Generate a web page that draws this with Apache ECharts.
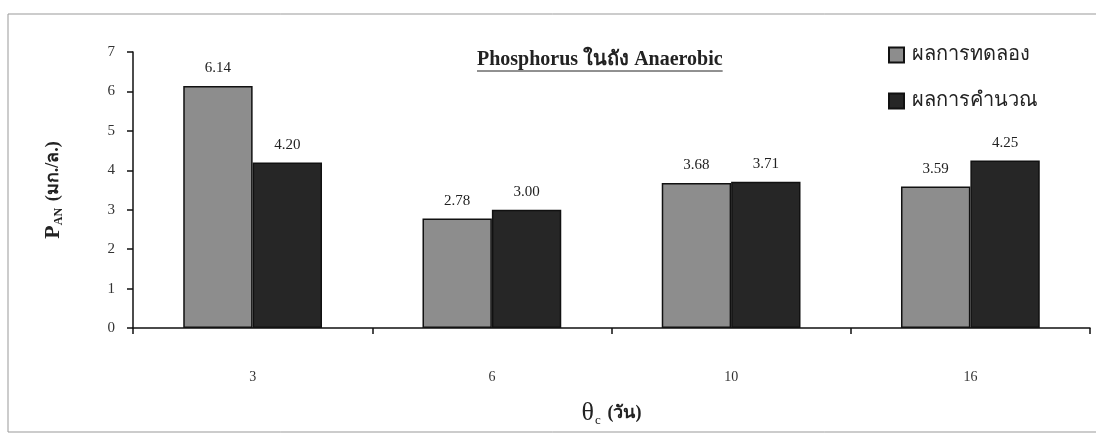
<!DOCTYPE html>
<html>
<head>
<meta charset="utf-8">
<script src="https://cdn.jsdelivr.net/npm/echarts@6/dist/echarts.min.js"></script>
<style>
  html, body { margin: 0; padding: 0; background: #ffffff; }
  #chart { width: 1096px; height: 445px; }
</style>
</head>
<body>
<div id="chart"></div>
<script>
// Sludge age (days) and anaerobic-tank phosphorus, mg/L
const categories = ['3', '6', '10', '16'];
const measured = [6.14, 2.78, 3.68, 3.59];
const calculated = [4.20, 3.00, 3.71, 4.25];
const yTicks = [0, 1, 2, 3, 4, 5, 6, 7];
const seriesNames = ['ผลการทดลอง', 'ผลการคำนวณ'];
const titleText = 'Phosphorus ในถัง Anaerobic';

const serif = '"Liberation Serif", "Times New Roman", serif';
const thaiSans = 'Tahoma, "DejaVu Sans", "Noto Sans", sans-serif';

const titleFont = 'bold 20px ' + serif;
const titleLeft = 477;
const titleTop = 52;

// measure the title so the underline spans exactly the drawn text
const measureCtx = document.createElement('canvas').getContext('2d');
measureCtx.font = titleFont;
const titleWidth = measureCtx.measureText(titleText).width;

const chart = echarts.init(document.getElementById('chart'));

const labelStyle = {
  show: true,
  position: 'top',
  distance: 10,
  fontFamily: serif,
  fontSize: 15,
  color: '#222',
  formatter: p => p.value.toFixed(2)
};

chart.setOption({
  animation: false,
  backgroundColor: '#ffffff',
  title: {
    text: titleText,
    left: titleLeft,
    top: titleTop - 2,
    padding: 0,
    textStyle: { fontFamily: serif, fontWeight: 'bold', fontSize: 20, color: '#222' }
  },
  legend: {
    orient: 'vertical',
    left: 883,
    top: 40,
    itemWidth: 15,
    itemHeight: 15,
    itemGap: 26,
    icon: 'rect',
    textStyle: { fontFamily: thaiSans, fontSize: 20, color: '#222', padding: [0, 0, 0, 3] },
    data: seriesNames
  },
  grid: { left: 133, right: 6, top: 52, bottom: 117 },
  xAxis: {
    type: 'category',
    data: categories,
    name: '{t|θ}{s|c}  {u|(วัน)}',
    nameLocation: 'middle',
    nameGap: 72,
    nameTextStyle: {
      rich: {
        t: { fontFamily: serif, fontSize: 26, color: '#222' },
        s: { fontFamily: serif, fontSize: 13, color: '#222', padding: [14, 0, 0, 1] },
        u: { fontFamily: serif, fontSize: 18, fontWeight: 'bold', color: '#222' }
      }
    },
    axisLine: { lineStyle: { color: '#111', width: 1.5 } },
    axisTick: { show: true, inside: false, length: 6, alignWithLabel: false, lineStyle: { color: '#111', width: 1.5 } },
    axisLabel: { margin: 42, fontFamily: serif, fontSize: 14, color: '#333' }
  },
  yAxis: {
    type: 'value',
    min: yTicks[0],
    max: yTicks[yTicks.length - 1],
    interval: 1,
    name: '{p|P}{s|AN}  {u|(มก./ล.)}',
    nameLocation: 'middle',
    nameGap: 68,
    nameTextStyle: {
      rich: {
        p: { fontFamily: serif, fontSize: 22, fontWeight: 'bold', color: '#222' },
        s: { fontFamily: serif, fontSize: 12, fontWeight: 'bold', color: '#222', padding: [12, 0, 0, 0] },
        u: { fontFamily: serif, fontSize: 18, fontWeight: 'bold', color: '#222' }
      }
    },
    splitLine: { show: false },
    axisLine: { show: true, lineStyle: { color: '#111', width: 1.5 } },
    axisTick: { show: true, inside: false, length: 6, lineStyle: { color: '#111', width: 1.5 } },
    axisLabel: { margin: 18, fontFamily: serif, fontSize: 15, color: '#333' }
  },
  series: [
    {
      name: seriesNames[0],
      type: 'bar',
      data: measured,
      barGap: '0%',
      barCategoryGap: '42%',
      itemStyle: { color: '#8d8d8d', borderColor: '#111', borderWidth: 1.5 },
      label: labelStyle
    },
    {
      name: seriesNames[1],
      type: 'bar',
      data: calculated,
      itemStyle: { color: '#262626', borderColor: '#111', borderWidth: 1.5 },
      label: labelStyle
    }
  ],
  graphic: [
    // outer frame
    {
      type: 'rect',
      shape: { x: 8, y: 14, width: 1100, height: 418 },
      style: { fill: 'none', stroke: '#999', lineWidth: 1 },
      silent: true
    },
    // title underline
    {
      type: 'line',
      shape: { x1: titleLeft, y1: titleTop + 19, x2: titleLeft + titleWidth, y2: titleTop + 19 },
      style: { stroke: '#222', lineWidth: 1 },
      silent: true
    }
  ]
});
</script>
</body>
</html>
